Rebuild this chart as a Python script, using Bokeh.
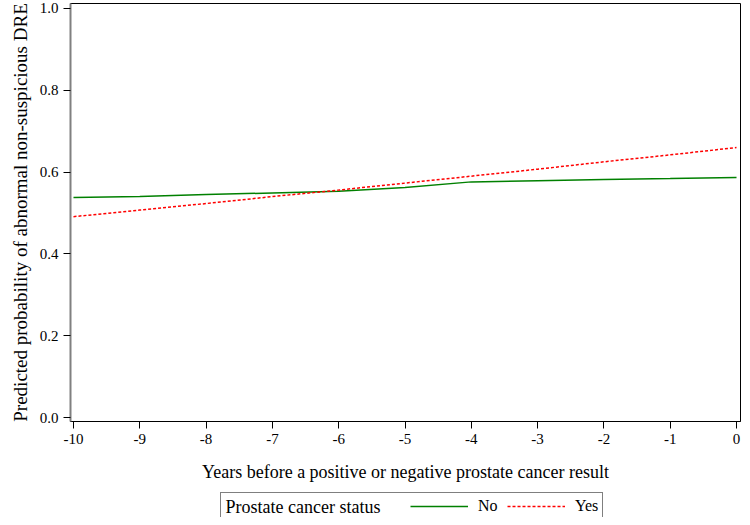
from bokeh.plotting import figure
from bokeh.models import Range1d, Legend, LegendItem, FixedTicker, NumeralTickFormatter, Label
from bokeh.layouts import column
from bokeh.embed import file_html
from bokeh.resources import INLINE

years = [-10, -9, -8, -7, -6, -5, -4, -3, -2, -1, 0]
prob_no = [0.538, 0.540, 0.545, 0.549, 0.553, 0.562, 0.576, 0.579, 0.582, 0.584, 0.587]
prob_yes = [0.491, 0.507, 0.523, 0.540, 0.556, 0.573, 0.590, 0.607, 0.625, 0.642, 0.660]
y_ticks = [0.0, 0.2, 0.4, 0.6, 0.8, 1.0]
x_tick_labels = ["-10", "-9", "-8", "-7", "-6", "-5", "-4", "-3", "-2", "-1", "0"]
legend_title = "Prostate cancer status"
series_labels = ["No", "Yes"]

FONT = "Liberation Serif"
GREEN = "#008000"
RED = "#ff0000"

p = figure(width=742, height=489, output_backend="svg", toolbar_location=None,
           x_range=Range1d(-10.045, 0.06), y_range=Range1d(-0.0097, 1.012),
           min_border_left=70, min_border_right=2, min_border_top=3, min_border_bottom=68)

p.xgrid.visible = False
p.ygrid.visible = False
p.outline_line_color = "black"
p.outline_line_width = 1

p.line(years, prob_no, line_color=GREEN, line_width=1.5)
p.line(years, prob_yes, line_color=RED, line_width=1.5, line_dash="3 2")

for ax in (p.xaxis[0], p.yaxis[0]):
    ax.axis_line_color = "black"
    ax.major_tick_line_color = "black"
    ax.major_tick_out = 7
    ax.major_tick_in = 0
    ax.minor_tick_line_color = None
    ax.major_label_text_font = FONT
    ax.major_label_text_font_size = "15px"
    ax.major_label_text_color = "black"
    ax.axis_label_text_font = FONT
    ax.axis_label_text_font_size = "18px"
    ax.axis_label_text_font_style = "normal"
    ax.axis_label_text_color = "black"

p.yaxis.axis_label_text_font_size = "19px"
p.yaxis.axis_line_color = "#808080"
p.yaxis.axis_line_width = 2
p.xaxis.ticker = FixedTicker(ticks=years)
p.xaxis.major_label_overrides = {y: lab for y, lab in zip(years, x_tick_labels)}
p.yaxis.ticker = FixedTicker(ticks=y_ticks)
p.yaxis.formatter = NumeralTickFormatter(format="0.0")
p.xaxis.axis_label = "Years before a positive or negative prostate cancer result"
p.yaxis.axis_label = "Predicted probability of abnormal non-suspicious DRE"
p.xaxis.axis_label_standoff = 15
p.yaxis.axis_label_standoff = 6

# legend strip below the chart
p2 = figure(width=742, height=28, output_backend="svg", toolbar_location=None,
            x_axis_type=None, y_axis_type=None,
            x_range=Range1d(-10.045, 0.06), y_range=Range1d(-0.0097, 1.012),
            min_border_left=0, min_border_right=0, min_border_top=0, min_border_bottom=0)
p2.outline_line_color = None
p2.xgrid.visible = False
p2.ygrid.visible = False
l_blank = p2.line(years, prob_no, line_alpha=0, visible=False)
l_no = p2.line(years, prob_no, line_color=GREEN, line_width=1.5, visible=False)
l_yes = p2.line(years, prob_yes, line_color=RED, line_width=1.5, line_dash="3 2", visible=False)

legend = Legend(items=[LegendItem(label="\u00a0" * 27, renderers=[l_blank]),
                       LegendItem(label=series_labels[0], renderers=[l_no]),
                       LegendItem(label=series_labels[1], renderers=[l_yes])],
                orientation="horizontal", location=(150, -3))
legend.label_text_font = FONT
legend.label_text_font_size = "16px"
legend.label_text_color = "black"
legend.border_line_color = "black"
legend.border_line_width = 1
legend.background_fill_color = None
legend.inactive_fill_color = None
legend.glyph_width = 58
legend.glyph_height = 18
legend.label_standoff = 10
legend.padding = 4
legend.spacing = 9
legend.margin = 0
p2.add_layout(legend)

p2.add_layout(Label(x=155, y=10.5, x_units="screen", y_units="screen", text=legend_title,
                    text_font=FONT, text_font_size="18px", text_color="black",
                    text_baseline="middle", text_align="left"))

layout = column(p, p2, spacing=0)
open("out.html", "w").write(file_html(layout, INLINE))
